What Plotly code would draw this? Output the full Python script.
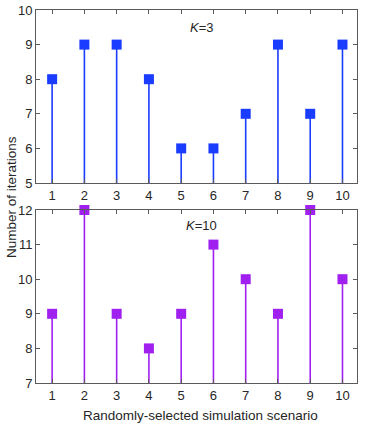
import plotly.graph_objects as go

scenarios = [1, 2, 3, 4, 5, 6, 7, 8, 9, 10]
iters_k3 = [8, 9, 9, 8, 6, 6, 7, 9, 7, 9]
iters_k10 = [9, 12, 9, 8, 9, 11, 10, 9, 12, 10]
base_k3 = 5
base_k10 = 7

blue = "#1a3cff"
purple = "#a020f0"
axis_col = "#5a5a5a"
text_col = "#262626"
font_family = "Liberation Sans, Arial, sans-serif"

W, H = 365, 426
L, R, T, B = 36, 8, 10, 43
pw, ph = W - L - R, H - T - B

def stems(xs, ys, base):
    sx, sy = [], []
    for x, y in zip(xs, ys):
        sx += [x, x, None]
        sy += [base, y, None]
    return sx, sy

def px(x):
    return (x - L) / pw

def py(y):
    return (H - B - y) / ph

fig = go.Figure()
sx, sy = stems(scenarios, iters_k3, base_k3)
fig.add_trace(go.Scatter(x=sx, y=sy, mode="lines", line=dict(color=blue, width=1.6),
                         xaxis="x", yaxis="y", showlegend=False, hoverinfo="skip"))
fig.add_trace(go.Scatter(x=scenarios, y=iters_k3, mode="markers",
                         marker=dict(symbol="square", size=10, color=blue, line=dict(width=0)),
                         xaxis="x", yaxis="y", showlegend=False, cliponaxis=False))
sx, sy = stems(scenarios, iters_k10, base_k10)
fig.add_trace(go.Scatter(x=sx, y=sy, mode="lines", line=dict(color=purple, width=1.6),
                         xaxis="x2", yaxis="y2", showlegend=False, hoverinfo="skip"))
fig.add_trace(go.Scatter(x=scenarios, y=iters_k10, mode="markers",
                         marker=dict(symbol="square", size=10, color=purple, line=dict(width=0)),
                         xaxis="x2", yaxis="y2", showlegend=False, cliponaxis=False))

common_x = dict(range=[0.5, 10.45], tickvals=scenarios, ticks="inside", ticklen=4,
                tickcolor=axis_col, showline=True, linecolor=axis_col, linewidth=1,
                mirror="ticks", showgrid=False, zeroline=False, automargin=False,
                tickfont=dict(size=13, color=text_col, family=font_family))
common_y = dict(ticks="inside", ticklen=4, tickcolor=axis_col, showline=True,
                linecolor=axis_col, linewidth=1, mirror="ticks", showgrid=False,
                zeroline=False, dtick=1, automargin=False,
                tickfont=dict(size=13, color=text_col, family=font_family))

top_dom = [py(183), 1.0]
bot_dom = [0.0, py(210)]

fig.update_layout(
    width=W, height=H,
    margin=dict(l=L, r=R, t=T, b=B, autoexpand=False),
    paper_bgcolor="white", plot_bgcolor="white",
    font=dict(family=font_family, color=text_col, size=13),
    xaxis=dict(common_x, domain=[0, 1], anchor="y"),
    yaxis=dict(common_y, range=[5, 10], domain=top_dom, anchor="x"),
    xaxis2=dict(common_x, domain=[0, 1], anchor="y2"),
    yaxis2=dict(common_y, range=[7, 12], domain=bot_dom, anchor="x2"),
    annotations=[
        dict(text="<i>K</i>=3", x=px(188), y=py(27), xref="paper", yref="paper",
             showarrow=False, xanchor="left", yanchor="middle",
             font=dict(size=13, color=text_col)),
        dict(text="<i>K</i>=10", x=px(184), y=py(226), xref="paper", yref="paper",
             showarrow=False, xanchor="left", yanchor="middle",
             font=dict(size=13, color=text_col)),
        dict(text="Number of iterations", textangle=-90, x=px(11), y=py(197),
             xref="paper", yref="paper", showarrow=False,
             xanchor="center", yanchor="middle",
             font=dict(size=13.5, color=text_col)),
        dict(text="Randomly-selected simulation scenario", x=px(201), y=py(415),
             xref="paper", yref="paper", showarrow=False,
             xanchor="center", yanchor="middle",
             font=dict(size=13.5, color=text_col)),
    ],
)

fig.write_html("out.html", config={"displayModeBar": False},
               post_script="document.body.style.margin='0';document.body.style.overflow='hidden';")
